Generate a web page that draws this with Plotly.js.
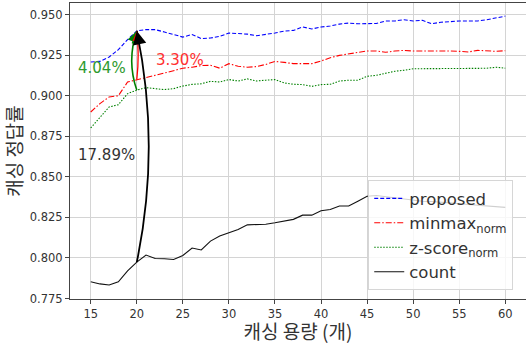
<!DOCTYPE html>
<html>
<head>
<meta charset="utf-8">
<script src="https://cdn.plot.ly/plotly-3.0.1.min.js"></script>
<style>html,body{margin:0;padding:0;background:#fff;}#chart{width:526px;height:344px;}</style>
</head>
<body>
<div id="chart"></div>
<script>
const capacity = [15,16,17,18,19,20,21,22,23,24,25,26,27,28,29,30,31,32,33,34,35,36,37,38,39,40,41,42,43,44,45,46,47,48,49,50,51,52,53,54,55,56,57,58,59,60];
const proposed = [0.9208,0.9212,0.9239,0.9284,0.9346,0.9400,0.9408,0.9408,0.9393,0.9377,0.9362,0.9378,0.9352,0.9356,0.9366,0.9387,0.9383,0.9380,0.9370,0.9377,0.9387,0.9399,0.9403,0.9424,0.9412,0.9424,0.9430,0.9442,0.9448,0.9444,0.9444,0.9446,0.9461,0.9461,0.9469,0.9461,0.9465,0.9444,0.9453,0.9459,0.9461,0.9461,0.9461,0.9469,0.9479,0.9491];
const minmaxNorm = [0.8900,0.8952,0.8993,0.9000,0.9085,0.9100,0.9112,0.9126,0.9140,0.9157,0.9170,0.9176,0.9186,0.9188,0.9170,0.9198,0.9182,0.9176,0.9180,0.9193,0.9212,0.9206,0.9198,0.9198,0.9198,0.9214,0.9235,0.9249,0.9259,0.9270,0.9276,0.9276,0.9268,0.9276,0.9280,0.9276,0.9276,0.9280,0.9276,0.9276,0.9274,0.9270,0.9280,0.9276,0.9274,0.9278];
const zscoreNorm = [0.8802,0.8869,0.8931,0.8945,0.9013,0.9035,0.9050,0.9044,0.9038,0.9044,0.9060,0.9070,0.9074,0.9089,0.9085,0.9100,0.9091,0.9104,0.9091,0.9096,0.9100,0.9079,0.9071,0.9069,0.9058,0.9069,0.9071,0.9091,0.9096,0.9096,0.9120,0.9126,0.9137,0.9151,0.9157,0.9167,0.9167,0.9167,0.9165,0.9165,0.9165,0.9167,0.9169,0.9170,0.9176,0.9170];
const countBased = [0.7853,0.7840,0.7833,0.7853,0.7920,0.7974,0.8018,0.7997,0.7995,0.7991,0.8015,0.8061,0.8049,0.8104,0.8135,0.8155,0.8176,0.8204,0.8206,0.8208,0.8217,0.8229,0.8238,0.8264,0.8264,0.8291,0.8299,0.8320,0.8320,0.8350,0.8381,0.8385,0.8378,0.8368,0.8360,0.8355,0.8350,0.8348,0.8345,0.8340,0.8335,0.8330,0.8325,0.8320,0.8316,0.8312];
const seriesNames = ['proposed','minmax<sub>norm</sub>','z-score<sub>norm</sub>','count'];
const gainLabels = ['4.04%','3.30%','17.89%'];
const xTicks = [15,20,25,30,35,40,45,50,55,60];
const yTicks = [0.775,0.800,0.825,0.850,0.875,0.900,0.925,0.950];

const latin = 'DejaVu Sans, Noto Sans CJK KR, sans-serif';
const kor = 'Noto Sans CJK KR, DejaVu Sans, sans-serif';

const traces = [
  {x: capacity, y: proposed, name: seriesNames[0], mode: 'lines', line: {color: '#0000ff', width: 1.1, dash: '4px,2px'}},
  {x: capacity, y: minmaxNorm, name: seriesNames[1], mode: 'lines', line: {color: '#ff0000', width: 1.1, dash: '6px,2px,1.5px,2px'}},
  {x: capacity, y: zscoreNorm, name: seriesNames[2], mode: 'lines', line: {color: '#008000', width: 1.1, dash: '1.5px,1.5px'}},
  {x: capacity, y: countBased, name: seriesNames[3], mode: 'lines', line: {color: '#111111', width: 1.1}}
];

const i20 = capacity.indexOf(20);
const xt = capacity[i20];
const yTip = proposed[i20];
function arc(y0, dx, color, w) {
  const cy = (y0 + yTip) / 2;
  return {type: 'path', xref: 'x', yref: 'y',
    path: 'M ' + xt + ',' + y0 + ' Q ' + (xt + dx) + ',' + cy + ' ' + xt + ',' + yTip,
    line: {color: color, width: w}};
}
function head(color, ax, w) {
  return {x: xt, y: yTip, xref: 'x', yref: 'y', text: '', showarrow: true,
    arrowhead: 2, arrowsize: 1.5, arrowwidth: w, arrowcolor: color, ax: ax, ay: 14, standoff: 0};
}

const layout = {
  width: 526, height: 344,
  margin: {l: 70, r: 0, t: 3, b: 45},
  paper_bgcolor: '#ffffff', plot_bgcolor: '#ffffff',
  showlegend: true,
  legend: {x: 0.972, y: 0.03, xanchor: 'right', yanchor: 'bottom',
    bgcolor: 'rgba(255,255,255,0.8)', bordercolor: '#d6d6d6', borderwidth: 1,
    font: {family: latin, size: 16.5, color: '#333333'}},
  xaxis: {range: [12.75, 62.25], tickvals: xTicks, ticktext: xTicks.map(String),
    showgrid: true, gridcolor: '#d4d4d4', gridwidth: 1, zeroline: false,
    showline: true, mirror: true, linecolor: '#444444', linewidth: 1,
    ticks: 'outside', ticklen: 4, tickcolor: '#444444',
    tickfont: {family: latin, size: 11.5, color: '#333333'},
    title: {text: '캐싱 용량 (개)', font: {family: kor, size: 19, color: '#333333'}, standoff: 4}},
  yaxis: {range: [0.7747, 0.9572], tickvals: yTicks, ticktext: yTicks.map(v => v.toFixed(3)),
    showgrid: true, gridcolor: '#d4d4d4', gridwidth: 1, zeroline: false,
    showline: true, mirror: true, linecolor: '#444444', linewidth: 1,
    ticks: 'outside', ticklen: 4, tickcolor: '#444444',
    tickfont: {family: latin, size: 11.5, color: '#333333'},
    title: {text: '캐싱 정답률', font: {family: kor, size: 19, color: '#333333'}, standoff: 8}},
  shapes: [
    arc(zscoreNorm[i20], -1.1, '#008000', 1.6),
    arc(minmaxNorm[i20], 0.3, '#ff0000', 1.3),
    arc(countBased[i20], 2.6, '#000000', 1.8)
  ],
  annotations: [
    head('#008000', -5, 1.5),
    head('#ff0000', 1, 1.3),
    head('#000000', 3, 1.8),
    {x: 16.2, y: 0.9169, xref: 'x', yref: 'y', text: gainLabels[0], showarrow: false, font: {family: latin, size: 15, color: '#2e9a2e'}},
    {x: 24.67, y: 0.9219, xref: 'x', yref: 'y', text: gainLabels[1], showarrow: false, font: {family: latin, size: 15, color: '#ff3030'}},
    {x: 16.74, y: 0.8634, xref: 'x', yref: 'y', text: gainLabels[2], showarrow: false, font: {family: latin, size: 15, color: '#333333'}}
  ]
};

Plotly.newPlot('chart', traces, layout, {displayModeBar: false, staticPlot: true});
</script>
</body>
</html>
